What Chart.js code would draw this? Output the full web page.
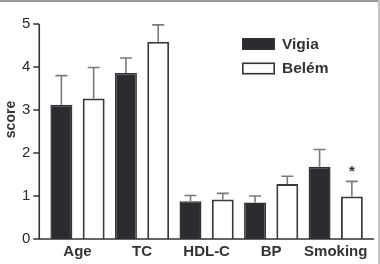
<!DOCTYPE html>
<html>
<head>
<meta charset="utf-8">
<script src="https://cdn.jsdelivr.net/npm/chart.js@4.4.1/dist/chart.umd.min.js"></script>
<style>
  body { margin: 0; background: #fff; }
  canvas { display: block; }
</style>
</head>
<body>
<canvas id="myChart" width="380" height="264"></canvas>
<script>
const labels = ['Age', 'TC', 'HDL-C', 'BP', 'Smoking']
const vigia = [3.12, 3.86, 0.88, 0.85, 1.68]
const vigiaErr = [0.68, 0.35, 0.13, 0.15, 0.40]
const belem = [3.27, 4.59, 0.92, 1.28, 0.99]
const belemErr = [0.72, 0.39, 0.14, 0.18, 0.35]
const belemMarks = ['', '', '', '', '*']
const yTicks = [0, 1, 2, 3, 4, 5]

const FONT = 'Liberation Sans, Arial, Helvetica, sans-serif'

// error bars, axes, legend, y title, frame
const extras = {
    id: 'extras',
    afterDatasetsDraw(chart) {
        const ctx = chart.ctx
        const y = chart.scales.y
        const area = chart.chartArea
        ctx.save()
        chart.data.datasets.forEach((ds, i) => {
            const meta = chart.getDatasetMeta(i)
            meta.data.forEach((bar, j) => {
                const top = y.getPixelForValue(ds.data[j] + ds.errors[j])
                ctx.strokeStyle = '#7a7a7a'
                ctx.lineWidth = 1.6
                ctx.beginPath()
                ctx.moveTo(bar.x, bar.y)
                ctx.lineTo(bar.x, top)
                ctx.moveTo(bar.x - 6, top)
                ctx.lineTo(bar.x + 6, top)
                ctx.stroke()
                if (ds.marks && ds.marks[j]) {
                    ctx.fillStyle = '#333'
                    ctx.font = 'bold 15px ' + FONT
                    ctx.textAlign = 'center'
                    ctx.textBaseline = 'middle'
                    ctx.fillText(ds.marks[j], bar.x, top - 10)
                }
            })
        })

        // axes
        const ax = area.left - 6
        ctx.strokeStyle = '#333'
        ctx.lineWidth = 1.6
        ctx.beginPath()
        ctx.moveTo(ax, y.getPixelForValue(y.max))
        ctx.lineTo(ax, area.bottom)
        ctx.moveTo(ax - 6, area.bottom)
        ctx.lineTo(area.right + 6, area.bottom)
        y.ticks.forEach(t => {
            const py = y.getPixelForValue(t.value)
            ctx.moveTo(ax - 6, py)
            ctx.lineTo(ax, py)
        })
        ctx.stroke()

        // y title
        ctx.save()
        ctx.translate(11, (area.top + area.bottom) / 2 - 12)
        ctx.rotate(-Math.PI / 2)
        ctx.fillStyle = '#333'
        ctx.font = 'bold 14px ' + FONT
        ctx.textAlign = 'center'
        ctx.textBaseline = 'middle'
        ctx.fillText('score', 0, 0)
        ctx.restore()

        // legend
        const lx = area.right - 126
        chart.data.datasets.forEach((ds, i) => {
            const ly = 38 + i * 24.5
            ctx.fillStyle = ds.backgroundColor
            ctx.fillRect(lx, ly, 33, 12)
            ctx.strokeStyle = '#333'
            ctx.lineWidth = 1.6
            ctx.strokeRect(lx + 0.8, ly + 0.8, 31.4, 10.4)
            ctx.fillStyle = '#333'
            ctx.font = 'bold 15.5px ' + FONT
            ctx.textAlign = 'left'
            ctx.textBaseline = 'middle'
            ctx.fillText(ds.label, lx + 40, ly + 6.5)
        })

        // frame
        ctx.fillStyle = '#9a9a9a'
        ctx.fillRect(0, 0, chart.width, 2)
        ctx.fillStyle = '#c4c4c4'
        ctx.fillRect(chart.width - 2, 0, 2, chart.height)
        ctx.restore()
    }
}

document.addEventListener("DOMContentLoaded", function () {
    var ctx = document.getElementById('myChart').getContext('2d');
    var myChart = new Chart(ctx, {
        type: 'bar',
        data: {
            labels: labels,
            datasets: [{
                label: 'Vigia',
                data: vigia,
                errors: vigiaErr,
                backgroundColor: '#2b2b30',
                borderColor: '#333',
                borderWidth: 1.5,
                barPercentage: 0.68,
                categoryPercentage: 1
            }, {
                label: 'Belém',
                data: belem,
                errors: belemErr,
                marks: belemMarks,
                backgroundColor: '#ffffff',
                borderColor: '#3a3a3a',
                borderWidth: 2,
                barPercentage: 0.68,
                categoryPercentage: 1
            }]
        },
        options: {
            responsive: false,
            animation: false,
            layout: { padding: { top: 15.5, right: 12, bottom: 0, left: 0 } },
            scales: {
                x: {
                    grid: { display: false },
                    border: { display: false },
                    ticks: {
                        color: '#333',
                        font: { family: FONT, size: 15, weight: 'bold' },
                        padding: -4,
                        maxRotation: 0,
                        autoSkip: false
                    },
                    afterFit: s => { s.height = 25 }
                },
                y: {
                    min: 0,
                    max: 5,
                    afterBuildTicks: s => { s.ticks = yTicks.map(v => ({ value: v })) },
                    grid: { display: false, drawTicks: false },
                    border: { display: false },
                    ticks: {
                        color: '#2a2a2a',
                        font: { family: FONT, size: 15 },
                        padding: 15
                    },
                    afterFit: s => { s.width = 45.25 }
                }
            },
            plugins: {
                legend: { display: false },
                tooltip: { enabled: false }
            }
        },
        plugins: [extras]
    });
});
</script>
</body>
</html>
